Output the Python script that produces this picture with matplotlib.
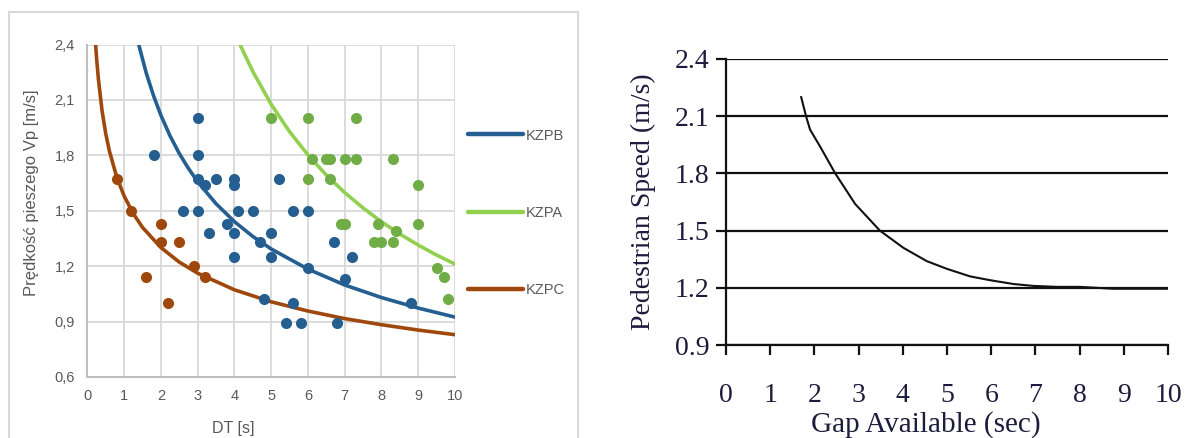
import matplotlib.pyplot as plt
from matplotlib.lines import Line2D
from matplotlib.patches import Rectangle

# left chart: measured points (DT [s], speed [m/s])
kzpb_x = [3.0, 1.8, 3.0, 3.0, 3.2, 3.5, 4.0, 4.0, 5.2, 2.6, 3.0, 4.1, 4.5, 5.6, 6.0, 3.8,
          3.3, 4.0, 5.0, 4.7, 4.0, 5.0, 6.7, 7.2, 6.0, 7.0, 4.8, 5.6, 8.8, 5.4, 5.8, 6.8]
kzpb_y = [2.0, 1.8, 1.8, 1.67, 1.64, 1.67, 1.67, 1.64, 1.67, 1.5, 1.5, 1.5, 1.5, 1.5, 1.5, 1.43,
          1.38, 1.38, 1.38, 1.33, 1.25, 1.25, 1.33, 1.25, 1.19, 1.13, 1.02, 1.0, 1.0, 0.89, 0.89, 0.89]
kzpa_x = [5.0, 6.0, 7.3, 6.1, 6.5, 6.6, 7.0, 7.3, 8.3, 6.0, 6.6, 9.0, 6.9, 7.0, 7.9, 9.0,
          8.4, 7.8, 8.0, 8.3, 9.5, 9.7, 9.8]
kzpa_y = [2.0, 2.0, 2.0, 1.78, 1.78, 1.78, 1.78, 1.78, 1.78, 1.67, 1.67, 1.64, 1.43, 1.43, 1.43, 1.43,
          1.39, 1.33, 1.33, 1.33, 1.19, 1.14, 1.02]
kzpc_x = [0.8, 1.2, 2.0, 2.0, 2.5, 2.9, 3.2, 1.6, 2.2]
kzpc_y = [1.67, 1.5, 1.43, 1.33, 1.33, 1.2, 1.14, 1.14, 1.0]

# trend lines
trend_b_x = [1.4, 1.6, 1.8, 2.0, 2.25, 2.5, 2.75, 3.0, 3.5, 4.0, 4.5, 5.0, 6.0, 7.0, 8.0, 9.0, 10.0]
trend_b_y = [2.398, 2.247, 2.123, 2.017, 1.905, 1.810, 1.729, 1.657, 1.538, 1.441, 1.361, 1.293,
             1.184, 1.098, 1.030, 0.973, 0.924]
trend_a_x = [4.15, 4.5, 5.0, 5.5, 6.0, 6.5, 7.0, 7.5, 8.0, 8.5, 9.0, 9.5, 10.0]
trend_a_y = [2.4, 2.254, 2.076, 1.928, 1.802, 1.693, 1.598, 1.515, 1.440, 1.374, 1.314, 1.260, 1.211]
trend_c_x = [0.22, 0.25, 0.3, 0.4, 0.5, 0.6, 0.8, 1.0, 1.25, 1.5, 2.0, 2.5, 3.0, 4.0, 5.0, 6.0,
             7.0, 8.0, 9.0, 10.0]
trend_c_y = [2.415, 2.329, 2.214, 2.042, 1.918, 1.823, 1.682, 1.58, 1.484, 1.410, 1.301, 1.222,
             1.162, 1.072, 1.007, 0.957, 0.916, 0.883, 0.854, 0.829]

left_yticks = [0.6, 0.9, 1.2, 1.5, 1.8, 2.1, 2.4]
left_yticklabels = ['0,6', '0,9', '1,2', '1,5', '1,8', '2,1', '2,4']
left_xticks = list(range(0, 11))

# right chart: scanned curve (gap available [sec], pedestrian speed [m/s])
gap_x = [1.7, 1.81, 1.9, 2.13, 2.47, 2.92, 3.48, 4.01, 4.54, 4.99, 5.52, 5.97, 6.5, 6.95,
         7.48, 8.0, 8.76, 10.0]
gap_y = [2.20, 2.10, 2.03, 1.94, 1.80, 1.64, 1.50, 1.41, 1.34, 1.30, 1.26, 1.24, 1.22, 1.21,
         1.205, 1.205, 1.195, 1.195]
right_yticks = [0.9, 1.2, 1.5, 1.8, 2.1, 2.4]
right_xticks = list(range(0, 11))

BLUE = '#255E91'
GREEN_LINE = '#92D050'
GREEN_PT = '#70AD47'
BROWN = '#9E480E'
GREY_TXT = '#595959'
INK = '#1c1c3c'

fig = plt.figure(figsize=(11.85, 4.38), dpi=100)

# ---- left chart (Excel style) ----
fig.patches.append(Rectangle((0.0076, -0.01), 0.4798, 0.9826, transform=fig.transFigure,
                             fill=False, edgecolor='#D9D9D9', linewidth=1.5))

ax = fig.add_axes([0.0737, 0.1393, 0.3103, 0.7591])
ax.plot(trend_c_x, trend_c_y, color=BROWN, lw=2.6, solid_capstyle='round', zorder=3)
ax.plot(trend_b_x, trend_b_y, color=BLUE, lw=2.6, solid_capstyle='round', zorder=3)
ax.plot(trend_a_x, trend_a_y, color=GREEN_LINE, lw=2.6, solid_capstyle='round', zorder=3)
ax.scatter(kzpb_x, kzpb_y, s=64, color=BLUE, zorder=4, linewidths=0)
ax.scatter(kzpa_x, kzpa_y, s=64, color=GREEN_PT, zorder=4, linewidths=0)
ax.scatter(kzpc_x, kzpc_y, s=64, color=BROWN, zorder=4, linewidths=0)

ax.set_xlim(0, 10)
ax.set_ylim(0.6, 2.4)
ax.set_xticks(left_xticks)
ax.set_yticks(left_yticks)
ax.set_yticklabels(left_yticklabels)
ax.tick_params(length=0, labelsize=10.5, labelcolor=GREY_TXT)
ax.tick_params(axis='y', pad=9)
ax.tick_params(axis='x', pad=9)
for lab in ax.get_xticklabels() + ax.get_yticklabels():
    lab.set_family('Liberation Sans')
ax.grid(True, color='#D9D9D9', lw=1.3)
ax.set_axisbelow(True)
for side in ['top', 'right']:
    ax.spines[side].set_visible(False)
for side in ['left', 'bottom']:
    ax.spines[side].set_color('#BFBFBF')
    ax.spines[side].set_linewidth(1.5)
    ax.spines[side].set_zorder(1)

fig.text(0.0262, 0.5594, 'Prędkość pieszego Vp [m/s]', rotation=90, ha='center', va='center',
         fontsize=12, color=GREY_TXT, family='Liberation Sans')
fig.text(0.1966, 0.0228, 'DT [s]', ha='center', va='center', fontsize=11.5,
         color=GREY_TXT, family='Liberation Sans')

handles = [Line2D([], [], color=BLUE, lw=3.2, solid_capstyle='round'),
           Line2D([], [], color=GREEN_LINE, lw=3.2, solid_capstyle='round'),
           Line2D([], [], color=BROWN, lw=3.2, solid_capstyle='round')]
leg = ax.legend(handles, ['KZPB', 'KZPA', 'KZPC'], loc='center left',
                bbox_to_anchor=(0.3885, 0.5137), bbox_transform=fig.transFigure,
                frameon=False, handlelength=3.8, handletextpad=0.2, labelspacing=4.35,
                borderpad=0, prop={'family': 'Liberation Sans', 'size': 10.5})
for t in leg.get_texts():
    t.set_color(GREY_TXT)

# ---- right chart (scanned figure) ----
ax2 = fig.add_axes([0.6127, 0.2123, 0.373, 0.653])
ax2.plot(gap_x, gap_y, color='#111111', lw=1.5, zorder=3)
ax2.set_xlim(0, 10)
ax2.set_ylim(0.9, 2.4)
ax2.set_xticks(right_xticks)
ax2.set_yticks(right_yticks)
ax2.set_yticklabels([f'{v:.1f}' for v in right_yticks])
ax2.grid(True, axis='y', color='#111111', lw=1.6)
ax2.set_axisbelow(True)
ax2.tick_params(axis='x', direction='out', length=7, width=1.6, color='#111111', pad=20,
                labelsize=20, labelcolor=INK)
ax2.tick_params(axis='y', direction='out', length=7, width=1.6, color='#111111', pad=5,
                labelsize=20, labelcolor=INK)
for lab in ax2.get_xticklabels() + ax2.get_yticklabels():
    lab.set_family('Liberation Serif')
for side in ['top', 'right']:
    ax2.spines[side].set_visible(False)
for side in ['left', 'bottom']:
    ax2.spines[side].set_color('#111111')
    ax2.spines[side].set_linewidth(1.6)

fig.text(0.5426, 0.5388, 'Pedestrian Speed (m/s)', rotation=90, ha='center', va='center',
         fontsize=20, color=INK, family='Liberation Serif')
fig.text(0.7814, 0.030, 'Gap Available (sec)', ha='center', va='center',
         fontsize=21, color=INK, family='Liberation Serif')

fig.savefig('out.png', dpi=100)
